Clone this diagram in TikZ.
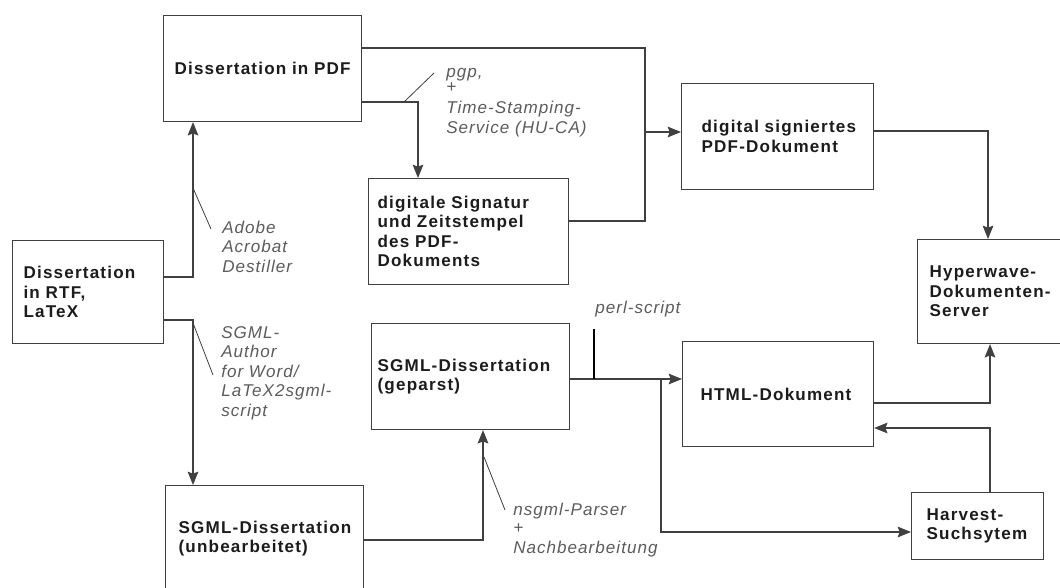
\documentclass[tikz,border=0pt]{standalone}
\usepackage{fontspec}
\setmainfont{Liberation Sans}
\newfontfamily\boxfont[LetterSpace=7]{Liberation Sans}
\newfontfamily\lblfont[LetterSpace=6]{Liberation Sans}
\usetikzlibrary{arrows.meta,calc}
\definecolor{ln}{HTML}{404040}
\definecolor{tx}{HTML}{1C1C1C}
\definecolor{lb}{HTML}{5C5C5C}
\tikzset{
  boxnode/.style={draw=ln, line width=0.85pt, anchor=north west, align=left, inner ysep=0pt,
    font=\boxfont\bfseries\fontsize{12.8}{14.6}\selectfont, text=tx},
  bx/.style n args={4}{minimum width=#1, minimum height=#2, inner xsep=#3, text width=#4},
  lbl/.style={anchor=north west, inner sep=0pt, align=left,
    font=\lblfont\itshape\fontsize{12.8}{14.6}\selectfont, text=lb},
  conn/.style={draw=ln, line width=0.85pt},
  arr/.style={conn, -{Stealth[length=10pt,width=8pt,inset=1.5pt]}},
  pointer/.style={draw=ln, line width=0.6pt},
}
\begin{document}
\begin{tikzpicture}[x=0.75pt,y=-0.75pt]
\useasboundingbox (0,0) rectangle (1060,588);
\fill[white] (0,0) rectangle (1060,588);
\begin{scope}
\clip (0,0) rectangle (1060,588);
% boxes
\node[boxnode, bx={148.5pt}{79.5pt}{8.25pt}{132pt}] (pdf) at (163,15) {\mbox{Dissertation in PDF}};
\node[boxnode, bx={113.25pt}{77.25pt}{8.25pt}{96.75pt}] (rtf) at (12,240) {Dissertation\\in RTF,\\LaTeX};
\node[boxnode, bx={150pt}{79.5pt}{6.75pt}{136.5pt}] (sig) at (368,178) {\mbox{digitale Signatur}\\\mbox{und Zeitstempel}\\des PDF-\\Dokuments};
\node[boxnode, bx={144pt}{79.5pt}{15pt}{114pt}] (dsig) at (681,83) {\mbox{digital signiertes}\\PDF-Dokument};
\node[boxnode, bx={120pt}{78pt}{9pt}{102pt}] (hw) at (917,239) {Hyperwave-\\Dokumenten-\\Server};
\node[boxnode, bx={148.5pt}{79.5pt}{4.5pt}{139.5pt}] (geparst) at (371,323) {\mbox{SGML-Dissertation}\\(geparst)};
\node[boxnode, bx={143.25pt}{78.75pt}{13.5pt}{116.25pt}] (html) at (682,341) {\mbox{HTML-Dokument}};
\node[boxnode, bx={99pt}{50.25pt}{11.25pt}{76.5pt}] (harvest) at (911,492) {Harvest-\\Suchsytem};
\node[boxnode, bx={148.5pt}{79.5pt}{9.75pt}{129pt}] (sgmlu) at (165,485) {\mbox{SGML-Dissertation}\\(unbearbeitet)};
% labels
\node[lbl] (adobe) at (222,219.4) {\strut Adobe\\Acrobat\\Destiller};
\node[lbl] (sgmla) at (221,324.4) {\strut SGML-\\Author\\for Word/\\LaTeX2sgml-\\script};
\node[lbl] (pgp) at (446,63.4) {\strut pgp,\\[-3.0pt]+\\[1.0pt]Time-Stamping-\\Service (HU-CA)};
\node[lbl] (perl) at (595,299.4) {\strut perl-script};
\node[lbl] (nsgml) at (513,501.4) {\strut nsgml-Parser\\[-0.6pt]+\\Nachbearbeitung};
% junctions
\coordinate (j1) at (645,132);
\coordinate (j2) at (661,379);
\coordinate (t1) at (594,329);
\coordinate (t2) at (594,379);
\coordinate (pa1) at (193,188);
\coordinate (pa2) at (211,229);
\coordinate (pb1) at (193,323);
\coordinate (pb2) at (213,375);
\coordinate (pc1) at (404,102);
\coordinate (pc2) at (434,73);
\coordinate (pd1) at (484,457);
\coordinate (pd2) at (505,510);
\coordinate (g1) at ($(geparst.north east)+(0,56)$);
% connectors
\draw[arr] ($(rtf.north east)+(0,37)$) -| ($(pdf.south west)+(30,0)$);
\draw[arr] ($(rtf.north east)+(0,80)$) -| ($(sgmlu.north west)+(28,0)$);
\draw[conn] ($(pdf.north east)+(0,33)$) -| (j1) |- ($(sig.north east)+(0,43)$);
\draw[arr] (j1) -- (j1 -| dsig.west);
\draw[arr] ($(pdf.north east)+(0,87)$) -| ($(sig.north west)+(50,0)$);
\draw[arr] ($(dsig.north east)+(0,48)$) -| ($(hw.north west)+(71,0)$);
\draw[arr] ($(sgmlu.north east)+(0,55)$) -| ($(geparst.south west)+(112,0)$);
\draw[arr] (g1) -- (g1 -| html.west);
\draw[arr] (j2) |- ($(harvest.north west)+(0,40)$);
\draw[arr] ($(html.north east)+(0,62)$) -| ($(hw.south west)+(73,0)$);
\draw[arr] ($(harvest.north west)+(79,0)$) |- ($(html.north east)+(0,87)$);
% pointers
\draw[pointer] (pa1) -- (pa2);
\draw[pointer] (pb1) -- (pb2);
\draw[pointer] (pc1) -- (pc2);
\draw[pointer] (pd1) -- (pd2);
\draw[draw=black, line width=0.9pt] (t1) -- (t2);
\end{scope}
\end{tikzpicture}
\end{document}
